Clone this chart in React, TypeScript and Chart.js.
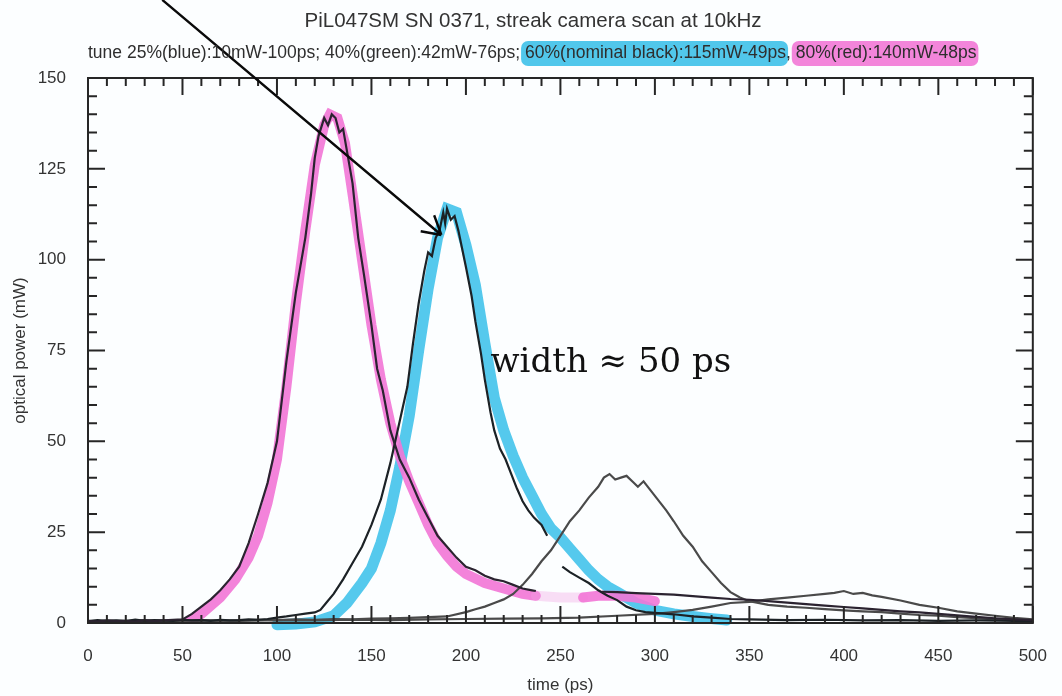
import React, { useEffect, useRef } from "react";
import { Chart, registerables } from "chart.js";

Chart.register(...registerables);

// ---------- text ----------
const TITLE = "PiL047SM SN 0371, streak camera scan at 10kHz";
const SUB_PARTS = [
  "tune 25%(blue):10mW-100ps; 40%(green):42mW-76ps; ",
  "60%(nominal black):115mW-49ps",
  ", ",
  "80%(red):140mW-48ps",
];
const SUB_HIGHLIGHT = [null, "rgba(72,196,234,0.95)", null, "rgba(242,120,214,0.9)"];
const X_LABEL = "time (ps)";
const Y_LABEL = "optical power (mW)";
const NOTE = "width \u2248 50 ps";
const NOTE_AT = [213, 69.2]; // data coords (ps, mW)
const ARROW_FROM = [39.3, 171.5];
const ARROW_TO = [187, 106.8];

// ---------- axes ----------
const X_MIN = 0, X_MAX = 500, X_STEP = 50, X_MINOR = 10;
const Y_MIN = 0, Y_MAX = 150, Y_STEP = 25, Y_MINOR = 5;

// ---------- data: 80% (red) ----------
const RED_T = [0,5,10,15,20,25,30,35,40,45,50,55,60,65,70,75,80,85,90,95,100,105,110,112,115,118,120,122,125,127,129,131,133,135,137,140,143,146,150,153,156,160,165,170,175,180,185,190,195,200,205,210,215,220,225,230,235,237,250,272,280,290,300,310,320,330,340,350,360,370,380,390,400,410,420,430,440,450,460,470,480,490,500];
const RED_P = [0.6,0.4,0.7,0.5,0.6,0.4,0.8,0.5,0.7,0.9,1.0,2.5,4.5,6.5,9,12,15.5,22,30,38.5,50,72,91,97,106,118,128,134,139,137,140,139,135,136,130,121,106,96,82,70,64,53,45,40,34,29,24,21,18,15.5,14.5,13,12,11.5,10.5,9.5,9,8.8,null,8.6,8.5,8.2,8.0,7.8,7.4,7.0,6.6,6.4,6.0,5.6,5.2,4.8,4.4,4.0,3.6,3.2,2.9,2.5,2.1,1.7,1.3,1.0,0.8];

// ---------- data: 60% (nominal black) ----------
const BLK_T = [0,5,10,15,20,25,30,35,40,45,50,55,60,65,70,75,80,85,90,95,100,105,110,115,120,123,126,130,135,140,145,150,155,160,163,166,169,172,175,178,180,182,184,186,188,189,190,192,194,196,198,200,203,205,208,210,213,215,218,221,224,227,230,233,236,240,243,247,251,255,260,265,270,275,280,285,290,295,300,310,320,330,340,350,370,390,410,430,450,470,490,500];
const BLK_P = [0.5,0.8,0.6,0.7,0.5,0.9,0.6,0.8,0.7,0.6,0.9,0.7,0.8,0.6,0.9,0.7,0.8,1.0,0.9,1.1,1.5,1.8,2.2,2.6,2.9,3.6,5.5,8,12,16.5,21,27,34,44,51,58,65,77,88,97,102,101,106,108,113,110,114,111,112,108,103,98,90,83,74,67,58,53,48,45,41,37,33.5,31,29,27,24,null,15.5,14,12.5,11,9,7.5,6.3,4.5,3.5,3,2.8,2.4,1.8,1.5,1.1,1.0,0.8,0.9,0.7,0.8,0.6,0.7,0.6,0.5];

// ---------- data: 40% (green) ----------
const GRN_T = [0,10,20,30,40,50,60,70,80,90,100,110,120,130,140,150,160,170,180,190,200,205,210,215,220,225,230,235,240,245,250,255,260,265,270,273,276,279,282,285,288,291,294,297,300,303,306,310,315,320,325,330,335,340,345,350,360,370,380,390,400,410,420,430,440,450,460,470,480,490,500];
const GRN_P = [0.4,0.6,0.5,0.7,0.5,0.6,0.8,0.6,0.7,0.9,0.8,1.0,0.9,1.1,1.0,1.2,1.3,1.4,1.6,1.8,3,3.8,4.5,5.5,6.5,8,10.5,13.5,17,20,24,28,31,34.5,37.5,40,41,39.5,40,40.5,39,37.5,39,37,35,33,31,28,24,21,17,14,11,8.5,7,6,5,4.5,4.2,3.8,3.5,3.2,3,2.6,2.2,2,1.6,1.3,1.0,0.8,0.7];

// ---------- data: 25% (blue) ----------
const BLU_T = [0,20,40,60,80,100,120,140,160,180,200,220,240,260,280,300,310,320,330,340,350,360,370,380,390,395,400,405,410,415,420,430,440,450,460,470,480,490,500];
const BLU_P = [0.4,0.6,0.5,0.7,0.6,0.8,0.7,0.9,0.8,1.0,1.1,1.2,1.3,1.5,2,2.5,3,3.6,4.5,5.5,5.8,6.5,7,7.5,8,8.3,8.8,8,8.3,7.6,7.2,6.2,5,4.2,3.2,2.6,2,1.4,1.0];

// ---------- hand-drawn highlighter strokes ----------
const PINK_T = [52,60,70,78,85,90,95,100,105,110,115,120,125,128,132,136,140,145,150,155,160,165,170,175,180,185,190,195,200,210,220,230,237,250,262,270,280,290,300];
const PINK_P = [0,2.5,7,12,18,24,33,45,65,88,108,126,137,140,139,132,118,100,82,67,55,46,39,33,27,22,18.5,15.5,13.5,11,9.5,8,7.5,7,7,7.5,7.5,7,6];
const CYAN_T = [100,110,120,130,137,145,150,155,160,165,170,175,180,185,190,195,200,205,210,215,220,225,230,235,240,245,250,255,260,265,270,275,280,285,290,300,310,320,330,338];
const CYAN_P = [-0.5,-0.3,0.3,2,5.5,11,15,22,31,43,57,75,92,106,114,113,104,93,77,62,53,46,40,35,30,26,23.5,20.5,17.5,14.5,12,10,8.5,7,5.5,3.5,2.5,1.8,1.2,0.8];

const pts = (t: number[], p: (number | null)[]) => t.map((x, i) => ({ x, y: p[i] }));

const FONT = '"Liberation Sans", Arial, sans-serif';

const decor = {
  id: "decor",
  beforeDraw(chart: any) {
    const { ctx, width, height } = chart;
    ctx.save();
    ctx.fillStyle = "#fcfeff";
    ctx.fillRect(0, 0, width, height);
    ctx.restore();
  },
  afterDatasetsDraw(chart: any) {
    const { ctx, chartArea: a, scales } = chart;
    const x = scales.x, y = scales.y;
    ctx.save();
    ctx.strokeStyle = "#262626";
    ctx.lineWidth = 2;
    ctx.strokeRect(a.left, a.top, a.right - a.left, a.bottom - a.top);
    ctx.beginPath();
    for (let v = X_MIN; v <= X_MAX; v += X_MINOR) {
      const px = x.getPixelForValue(v);
      const len = v % X_STEP === 0 ? 17 : 8;
      ctx.moveTo(px, a.bottom); ctx.lineTo(px, a.bottom - len);
      ctx.moveTo(px, a.top); ctx.lineTo(px, a.top + len);
    }
    for (let v = Y_MIN; v <= Y_MAX; v += Y_MINOR) {
      const py = y.getPixelForValue(v);
      const len = v % Y_STEP === 0 ? 17 : 9;
      ctx.moveTo(a.left, py); ctx.lineTo(a.left + len, py);
      ctx.moveTo(a.right, py); ctx.lineTo(a.right - len, py);
    }
    ctx.stroke();

    // arrow
    const x0 = x.getPixelForValue(ARROW_FROM[0]), y0 = y.getPixelForValue(ARROW_FROM[1]);
    const x1 = x.getPixelForValue(ARROW_TO[0]), y1 = y.getPixelForValue(ARROW_TO[1]);
    ctx.strokeStyle = "#0a0a0a";
    ctx.lineWidth = 2.4;
    ctx.beginPath();
    ctx.moveTo(x0, y0); ctx.lineTo(x1, y1);
    const ang = Math.atan2(y0 - y1, x0 - x1);
    const hl = 21;
    for (const d of [-0.52, 0.52]) {
      ctx.moveTo(x1, y1);
      ctx.lineTo(x1 + hl * Math.cos(ang + d), y1 + hl * Math.sin(ang + d));
    }
    ctx.stroke();

    // note
    ctx.fillStyle = "#111";
    ctx.font = '34px "DejaVu Serif", serif';
    ctx.textAlign = "left";
    ctx.textBaseline = "alphabetic";
    ctx.fillText(NOTE, x.getPixelForValue(NOTE_AT[0]), y.getPixelForValue(NOTE_AT[1]));
    ctx.restore();
  },
  afterDraw(chart: any) {
    const { ctx } = chart;
    ctx.save();
    ctx.fillStyle = "#333";
    ctx.font = "20.5px " + FONT;
    ctx.textAlign = "center";
    ctx.textBaseline = "middle";
    ctx.fillText(TITLE, 533, 21);

    ctx.font = "17.5px " + FONT;
    ctx.textAlign = "left";
    let cx = 88;
    const widths = SUB_PARTS.map((s) => ctx.measureText(s).width);
    SUB_PARTS.forEach((s, i) => {
      const hc = SUB_HIGHLIGHT[i];
      if (hc) {
        ctx.fillStyle = hc;
        ctx.beginPath();
        const rr = (ctx as any).roundRect;
        if (rr) (ctx as any).roundRect(cx - 4, 41, widths[i] + 6, 25, 7);
        else ctx.rect(cx - 4, 41, widths[i] + 6, 25);
        ctx.fill();
      }
      cx += widths[i];
    });
    cx = 88;
    ctx.fillStyle = "#2e2e2e";
    SUB_PARTS.forEach((s, i) => {
      ctx.fillText(s, cx, 53);
      cx += widths[i];
    });
    ctx.restore();
  },
};

export default function App() {
  const ref = useRef<HTMLCanvasElement | null>(null);
  useEffect(() => {
    if (!ref.current) return;
    const line = (data: any, color: string, w: number, order: number, extra: any = {}) => ({
      data, borderColor: color, borderWidth: w, pointRadius: 0, tension: 0, fill: false, order, ...extra,
    });
    const chart = new Chart(ref.current, {
      type: "line",
      data: {
        datasets: [
          line(pts(RED_T, RED_P), "#2b2330", 2.2, 0),
          line(pts(BLK_T, BLK_P), "#1c2226", 2.2, 0),
          line(pts(GRN_T, GRN_P), "#4a4a4a", 2.2, 1),
          line(pts(BLU_T, BLU_P), "#4a4a4a", 2.2, 1),
          line(pts(PINK_T, PINK_P), "rgba(242,118,214,0.9)", 10, 10, {
            borderCapStyle: "round",
            segment: {
              borderColor: (c: any) =>
                c.p0.parsed.x >= 236 && c.p1.parsed.x <= 263 ? "rgba(242,160,225,0.35)" : undefined,
            },
          }),
          line(pts(CYAN_T, CYAN_P), "rgba(76,198,236,0.95)", 11, 10, { borderCapStyle: "round", clip: 8 }),
        ],
      },
      options: {
        animation: false,
        responsive: false,
        maintainAspectRatio: false,
        layout: { padding: { left: 0, top: 78, right: 19, bottom: 0 } },
        plugins: { legend: { display: false }, tooltip: { enabled: false }, title: { display: false } },
        scales: {
          x: {
            type: "linear",
            min: X_MIN,
            max: X_MAX,
            grid: { display: false },
            border: { display: false },
            ticks: { stepSize: X_STEP, padding: 15, color: "#333", font: { family: FONT, size: 17 }, maxRotation: 0 },
            title: { display: true, text: X_LABEL, color: "#333", font: { family: FONT, size: 17 }, padding: { top: 0, bottom: 0 } },
            afterFit: (s: any) => { s.height = 73; },
          },
          y: {
            type: "linear",
            min: Y_MIN,
            max: Y_MAX,
            grid: { display: false },
            border: { display: false },
            ticks: { stepSize: Y_STEP, padding: 14, color: "#333", font: { family: FONT, size: 17 } },
            title: { display: true, text: Y_LABEL, color: "#333", font: { family: FONT, size: 17 }, padding: { top: 10, bottom: 0 } },
            afterFit: (s: any) => { s.width = 88; },
          },
        },
      },
      plugins: [decor],
    } as any);
    return () => chart.destroy();
  }, []);
  return (
    <div style={{ position: "fixed", left: 0, top: 0, width: 1062, height: 696, background: "#fff" }}>
      <canvas ref={ref} width={1062} height={696} style={{ display: "block" }} />
    </div>
  );
}
